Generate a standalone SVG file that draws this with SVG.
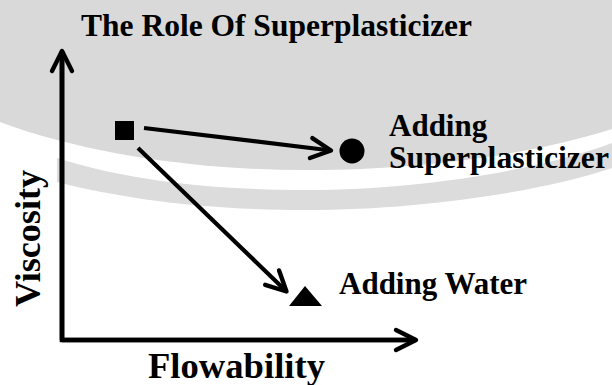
<svg xmlns="http://www.w3.org/2000/svg" width="612" height="385" viewBox="0 0 612 385">
<style>
.t{font-family:"Liberation Serif","Times New Roman",serif;font-weight:bold;fill:#000}
.ln{fill:none;stroke:#000;stroke-width:4.2;stroke-linecap:butt}
.ax{fill:none;stroke:#000;stroke-width:4.6}
</style>
<defs>
<marker id="arr" markerUnits="userSpaceOnUse" markerWidth="40" markerHeight="40" viewBox="-30 -20 40 40" refX="0" refY="0" orient="auto" overflow="visible">
<path d="M-20,-10 L0,0 L-20,10" fill="none" stroke="#000" stroke-width="4.4" stroke-linecap="round" stroke-linejoin="round"/>
</marker>
</defs>
<g id="background">
<rect x="0" y="0" width="612" height="385" fill="#ffffff"/>
<path d="M57,158 C120,178 200,190 306,190 C420,190 540,170 612,143 L612,168 C540,192 420,210 306,210 C200,210 120,198 57,182 Z" fill="#dcdcdc"/>
<path d="M0,0 H612 V129 C540,152 430,170 306,170 C190,170 80,152 0,122 Z" fill="#d9d9d9"/>
</g>
<g id="connectors">
<path class="ax" d="M62,52 V340 H414" marker-start="none"/>
<line class="ax" x1="62" y1="340" x2="62" y2="51" marker-end="url(#arr)"/>
<line class="ax" x1="62" y1="340" x2="416" y2="340" marker-end="url(#arr)"/>
<line class="ln" x1="144" y1="128" x2="331" y2="150.5" marker-end="url(#arr)"/>
<line class="ln" x1="138" y1="148" x2="286.5" y2="291.5" marker-end="url(#arr)"/>
</g>
<g id="title"><text class="t" x="81" y="36" font-size="31.5">The Role Of Superplasticizer</text></g>
<g id="start"><rect x="115" y="121" width="19" height="19" fill="#000"/></g>
<g id="superplasticizer">
<circle cx="352" cy="151" r="12.5" fill="#000"/>
<text class="t" x="389" y="136" font-size="31">Adding</text>
<text class="t" x="389" y="168" font-size="31" textLength="220" lengthAdjust="spacingAndGlyphs">Superplasticizer</text>
</g>
<g id="water">
<polygon points="305,286 289,306 322,306" fill="#000"/>
<text class="t" x="339" y="294" font-size="31">Adding Water</text>
</g>
<g id="xlabel"><text class="t" x="148" y="378" font-size="35" textLength="177" lengthAdjust="spacingAndGlyphs">Flowability</text></g>
<g id="ylabel"><text class="t" transform="translate(40,307) rotate(-90)" x="0" y="0" font-size="35" textLength="137" lengthAdjust="spacingAndGlyphs">Viscosity</text></g>
</svg>
